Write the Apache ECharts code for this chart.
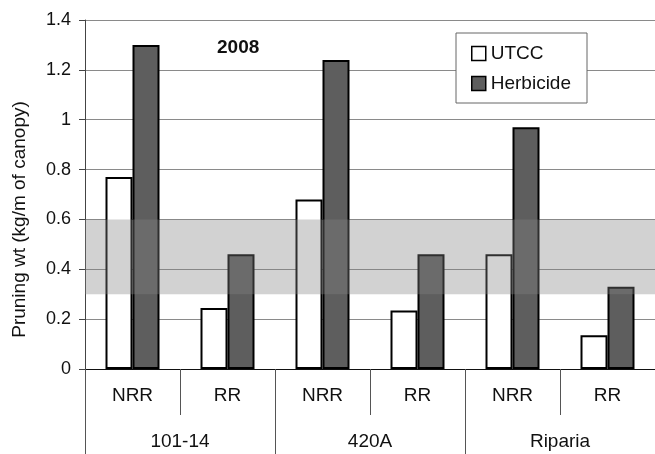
<!DOCTYPE html>
<html>
<head>
<meta charset="utf-8">
<script src="https://cdn.jsdelivr.net/npm/echarts@6/dist/echarts.min.js"></script>
<style>
  html, body { margin: 0; padding: 0; background: #fff; }
  #chart { width: 655px; height: 454px; }
</style>
</head>
<body>
<div id="chart"></div>
<script>
  // categories
  const subCats = ['NRR', 'RR', 'NRR', 'RR', 'NRR', 'RR']
  const groupCats = ['101-14', '420A', 'Riparia']
  // series values (kg/m of canopy)
  const utcc = [0.77, 0.245, 0.68, 0.235, 0.46, 0.135]
  const herbicide = [1.30, 0.46, 1.24, 0.46, 0.97, 0.33]
  // shaded target range
  const bandRange = [0.3, 0.6]

  const font = 'Liberation Sans, Arial, sans-serif'
  const chart = echarts.init(document.getElementById('chart'))

  chart.setOption({
    animation: false,
    textStyle: { fontFamily: font },
    title: {
      text: '2008',
      left: 217,
      top: 38,
      padding: 0,
      textStyle: { fontSize: 19, fontWeight: 'bold', color: '#111', fontFamily: font }
    },
    legend: {
      data: ['UTCC', 'Herbicide'],
      orient: 'vertical',
      left: 456,
      top: 33,
      padding: [11, 16, 10, 15],
      itemWidth: 14,
      itemHeight: 14,
      itemGap: 11,
      borderColor: '#666',
      borderWidth: 1,
      backgroundColor: '#fff',
      icon: 'rect',
      itemStyle: { borderWidth: 1.5 },
      textStyle: { fontSize: 19, color: '#111', fontFamily: font }
    },
    grid: { left: 85, right: 0, top: 20, bottom: 85, outerBoundsMode: 'none', containLabel: false },
    xAxis: [
      {
        type: 'category',
        data: subCats,
        position: 'bottom',
        axisLine: { show: true, lineStyle: { color: '#111', width: 1 } },
        axisTick: { show: true, interval: 0, length: 46, lineStyle: { color: '#555' } },
        axisLabel: { interval: 0, margin: 17, fontSize: 19, color: '#111' }
      },
      {
        type: 'category',
        data: groupCats,
        position: 'bottom',
        axisLine: { show: false },
        axisTick: { show: true, interval: 0, length: 86, lineStyle: { color: '#555' } },
        axisLabel: { interval: 0, margin: 63, fontSize: 19, color: '#111' }
      }
    ],
    yAxis: {
      type: 'value',
      min: 0,
      max: 1.4,
      interval: 0.2,
      name: 'Pruning wt (kg/m of canopy)',
      nameLocation: 'middle',
      nameGap: 56,
      nameTextStyle: { fontSize: 19, color: '#111', fontFamily: font, padding: [0, 50, 0, 0] },
      axisLine: { show: true, lineStyle: { color: '#444', width: 1 } },
      axisTick: { show: true, length: 6, lineStyle: { color: '#444' } },
      axisLabel: {
        margin: 14,
        fontSize: 18,
        color: '#111',
        formatter: v => String(Math.round(v * 10) / 10)
      },
      splitLine: { show: true, lineStyle: { color: '#8a8a8a', width: 1 } }
    },
    series: [
      {
        name: 'UTCC',
        type: 'bar',
        xAxisIndex: 0,
        data: utcc,
        barWidth: 27,
        barGap: '0%',
        itemStyle: { color: '#ffffff', borderColor: '#000', borderWidth: 2 }
      },
      {
        name: 'Herbicide',
        type: 'bar',
        xAxisIndex: 0,
        data: herbicide,
        barWidth: 27,
        barGap: '0%',
        itemStyle: { color: '#5e5e5e', borderColor: '#000', borderWidth: 2 }
      },
      {
        // translucent target band, on its own layer above the bars
        type: 'custom',
        xAxisIndex: 0,
        zlevel: 1,
        z: 10,
        silent: true,
        data: [bandRange],
        encode: { y: [0, 1] },
        renderItem: (params, api) => {
          const cs = params.coordSys
          const yLow = api.coord([0, api.value(0)])[1]
          const yHigh = api.coord([0, api.value(1)])[1]
          return {
            type: 'rect',
            shape: { x: cs.x, y: yHigh, width: cs.width, height: yLow - yHigh },
            style: { fill: 'rgba(130,130,130,0.36)' }
          }
        }
      }
    ]
  })
</script>
</body>
</html>
